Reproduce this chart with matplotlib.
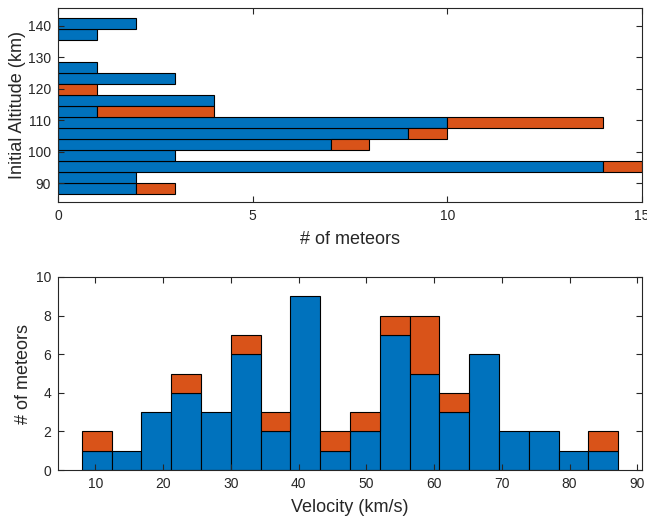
#!/usr/bin/env python3
"""Meteor altitude / velocity histograms (stacked, two groups)."""

import numpy as np
import matplotlib
matplotlib.use("Agg")
import matplotlib.pyplot as plt

plt.rcParams["font.family"] = ["Liberation Sans", "DejaVu Sans"]

BLUE = "#0072BD"
ORANGE = "#D95319"
AXCOL = "#262626"

# altitude bins (km), lower edges, width 3.5
alt_edges = [86.5, 90.0, 93.5, 97.0, 100.5, 104.0, 107.5, 111.0, 114.5,
             118.0, 121.5, 125.0, 128.5, 132.0, 135.5, 139.0, 142.5]
alt_blue = [2, 2, 14, 3, 7, 9, 10, 1, 4, 0, 3, 1, 0, 0, 1, 2]
alt_orange = [1, 0, 1, 0, 1, 1, 4, 3, 0, 1, 0, 0, 0, 0, 0, 0]

# velocity bins (km/s)
vel_edges = [8.0, 12.4, 16.8, 21.2, 25.6, 30.0, 34.4, 38.8, 43.2, 47.6,
             52.0, 56.4, 60.8, 65.2, 69.6, 74.0, 78.4, 82.8, 87.2]
vel_blue = [1, 1, 3, 4, 3, 6, 2, 9, 1, 2, 7, 5, 3, 6, 2, 2, 1, 1]
vel_orange = [1, 0, 0, 1, 0, 1, 1, 0, 1, 1, 1, 3, 1, 0, 0, 0, 0, 1]


def style_axes(ax):
    for s in ax.spines.values():
        s.set_color(AXCOL)
        s.set_linewidth(0.8)
    ax.tick_params(direction="in", top=True, right=True, length=4,
                   width=0.8, color=AXCOL, labelsize=10, labelcolor=AXCOL,
                   pad=5)


fig = plt.figure(figsize=(6.47, 5.2), dpi=100)
ax1 = fig.add_axes([58 / 647, 1 - 202 / 520, 584 / 647, 194 / 520])
ax2 = fig.add_axes([58 / 647, 1 - 470 / 520, 584 / 647, 193 / 520])

# top: altitude
e = np.array(alt_edges)
centers = (e[:-1] + e[1:]) / 2
h = np.diff(e)
b = np.array(alt_blue)
o = np.array(alt_orange)
ax1.barh(centers[b > 0], b[b > 0], height=h[b > 0], color=BLUE,
         edgecolor="black", linewidth=0.8)
ax1.barh(centers[o > 0], o[o > 0], left=b[o > 0], height=h[o > 0],
         color=ORANGE, edgecolor="black", linewidth=0.8)
ax1.set_xlim(0, 15)
ax1.set_ylim(84, 145.7)
ax1.set_xticks([0, 5, 10, 15])
ax1.set_yticks([90, 100, 110, 120, 130, 140])
ax1.set_xlabel("# of meteors", fontsize=13, color=AXCOL, labelpad=6)
ax1.set_ylabel("Initial Altitude (km)", fontsize=13, color=AXCOL,
               labelpad=1)
style_axes(ax1)

# bottom: velocity
e = np.array(vel_edges)
centers = (e[:-1] + e[1:]) / 2
w = np.diff(e)
b = np.array(vel_blue)
o = np.array(vel_orange)
ax2.bar(centers, b, width=w, color=BLUE, edgecolor="black", linewidth=0.8)
ax2.bar(centers[o > 0], o[o > 0], bottom=b[o > 0], width=w[o > 0],
        color=ORANGE, edgecolor="black", linewidth=0.8)
ax2.set_xlim(4.5, 90.7)
ax2.set_ylim(0, 10)
ax2.set_xticks([10, 20, 30, 40, 50, 60, 70, 80, 90])
ax2.set_yticks([0, 2, 4, 6, 8, 10])
ax2.set_xlabel("Velocity (km/s)", fontsize=13, color=AXCOL, labelpad=6)
ax2.set_ylabel("# of meteors", fontsize=13, color=AXCOL, labelpad=3)
style_axes(ax2)

fig.savefig("out.png", dpi=100)
